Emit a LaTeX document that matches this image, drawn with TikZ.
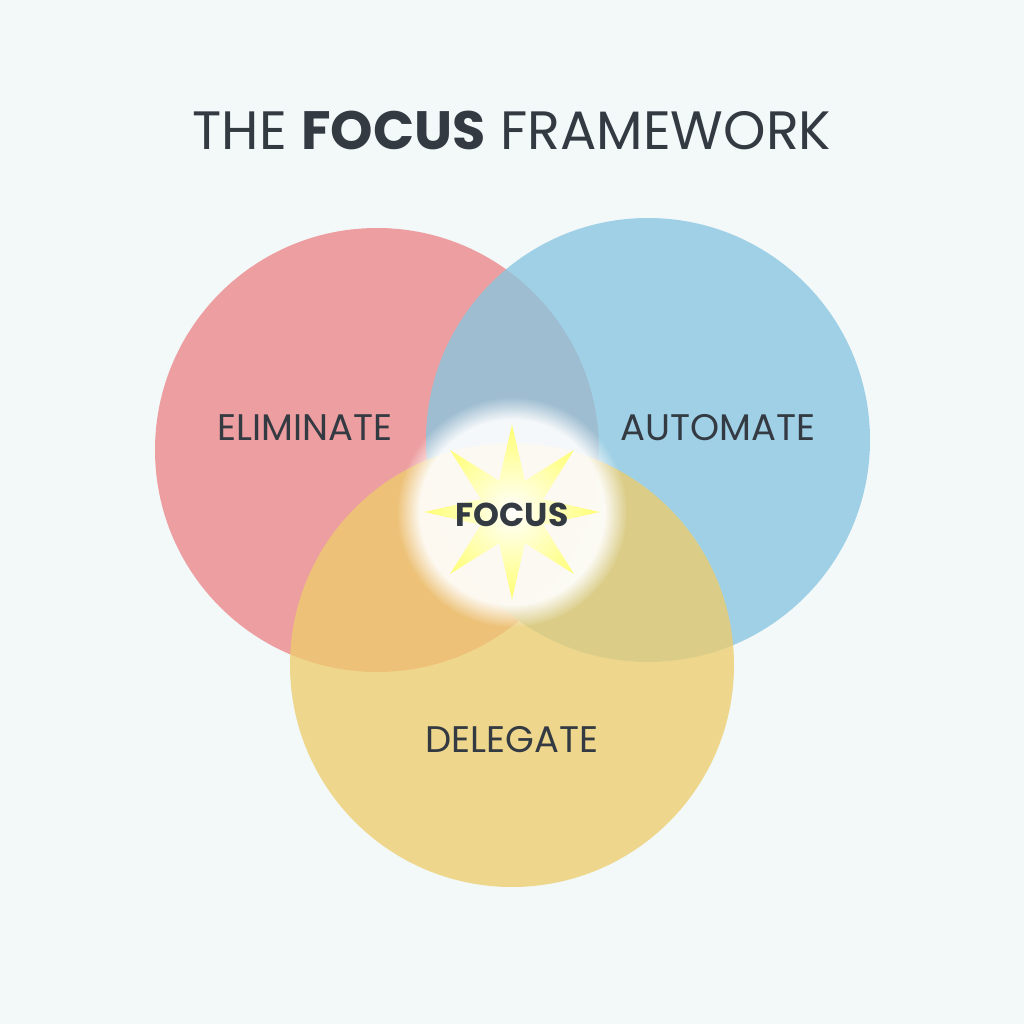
\documentclass[tikz,border=0pt]{standalone}
\usepackage{fontspec}
\setmainfont{Poppins}
\usetikzlibrary{shapes.geometric,fadings}
\definecolor{bg}{HTML}{F3F8F9}
\definecolor{cred}{HTML}{EC8587}
\definecolor{cblue}{HTML}{88C6E0}
\definecolor{cyel}{HTML}{EDCD6E}
\definecolor{txt}{HTML}{333A42}
\begin{document}
\begin{tikzpicture}[x=1pt,y=-1pt,
  circ/.style={circle,minimum size=444pt,inner sep=0pt,outer sep=0pt,fill opacity=0.78},
  lab/.style={text=txt,font=\fontsize{37}{37}\selectfont}]
\fill[bg] (0,0) rectangle (1024,1024);
\useasboundingbox (0,0) rectangle (1024,1024);
\node[lab,font=\fontsize{54}{54}\selectfont] (title) at (512,130) {THE \textbf{FOCUS} FRAMEWORK};
\node[circ,fill=cred] (red) at (377,450) {};
\node[circ,fill=cblue] (blue) at (648,440) {};
\node[circ,fill=cyel] (yel) at (512,665) {};
\fill[white,path fading=circle with fuzzy edge 20 percent,fill opacity=0.9] (512,512) circle (115);
\node[star,star points=8,star point ratio=2.6,minimum size=175pt,inner sep=0pt,
  inner color=white,outer color=yellow!55!white,draw=none] (star) at (512,512) {};
\node[lab] (elim) at (305,428) {ELIMINATE};
\node[lab] (auto) at (718,428) {AUTOMATE};
\node[lab] (dele) at (512,740) {DELEGATE};
\node[lab,font=\fontsize{33}{33}\selectfont\bfseries] (focus) at (512,515) {FOCUS};
\end{tikzpicture}
\end{document}
